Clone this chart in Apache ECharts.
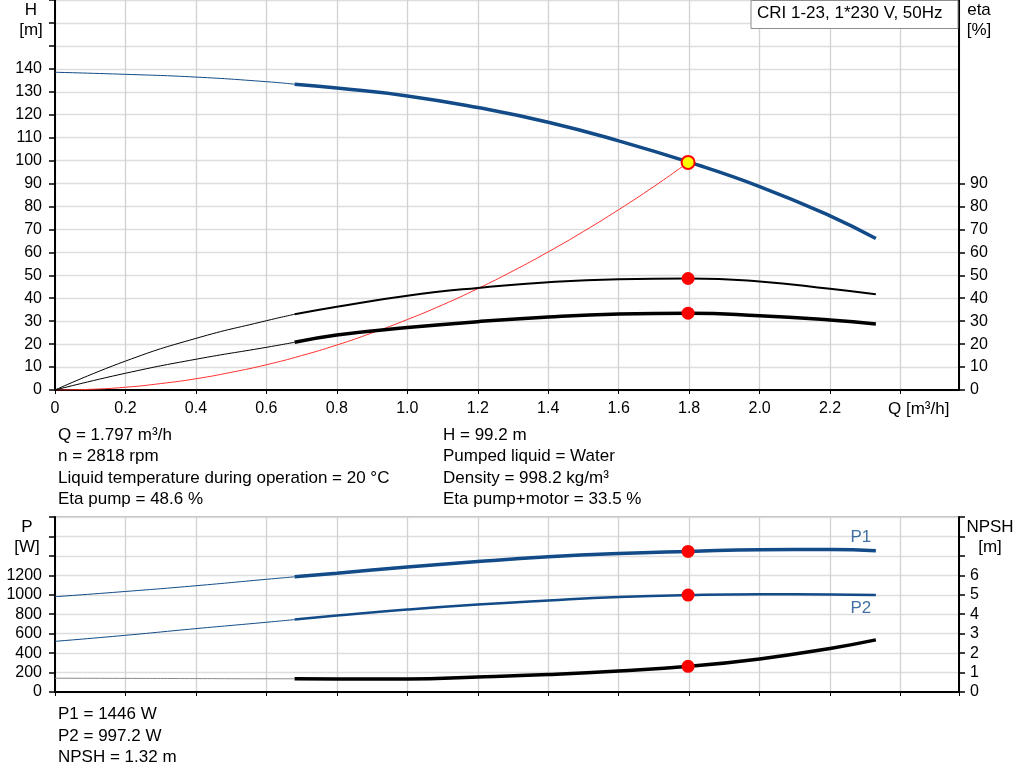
<!DOCTYPE html>
<html>
<head>
<meta charset="utf-8">
<script src="https://cdn.jsdelivr.net/npm/echarts@6/dist/echarts.min.js"></script>
<style>
html,body{margin:0;padding:0;background:#fff;}
#c{width:1024px;height:781px;}
</style>
</head>
<body>
<div id="c"></div>
<script>
// ---- data ----
const Q_THIN = [0, 0.2, 0.4, 0.6, 0.68];
const Q_THICK = [0.68, 0.8, 1.0, 1.2, 1.4, 1.6, 1.8, 2.0, 2.2, 2.33];
const H_THIN = [138.5, 137.6, 136.4, 134.4, 133.3];
const H_THICK = [133.3, 131.6, 128.2, 123.1, 116.7, 108.6, 99.3, 88.7, 75.9, 66.0];
const ETA_PUMP_THIN = [0, 12.6, 22.5, 30.2, 33.0];
const ETA_PUMP_THICK = [33.0, 36.3, 41.1, 44.5, 47.0, 48.3, 48.6, 47.3, 44.1, 41.7];
const ETA_TOTAL_THIN = [0, 7.3, 13.4, 18.6, 20.8];
const ETA_TOTAL_THICK = [20.8, 24.0, 27.2, 29.8, 31.8, 33.1, 33.5, 32.4, 30.5, 28.8];
const Q_SYS = [0, 0.1, 0.2, 0.3, 0.4, 0.5, 0.6, 0.7, 0.8, 0.9, 1.0, 1.1, 1.2, 1.3, 1.4, 1.5, 1.6, 1.7, 1.797];
const H_SYS = [0, 0.3, 1.2, 2.8, 4.9, 7.7, 11.0, 15.0, 19.6, 24.9, 30.7, 37.1, 44.2, 51.9, 60.2, 69.1, 78.6, 88.7, 99.2];
const P1_THIN = [980, 1034, 1093, 1159, 1185];
const P1_THICK = [1185, 1222, 1285, 1342, 1390, 1424, 1446, 1464, 1466, 1452];
const P2_THIN = [521, 583, 652, 717, 745];
const P2_THICK = [745, 786, 848, 900, 941, 976, 997, 1006, 1004, 997];
const NPSH_THIN = [0.71, 0.70, 0.69, 0.68, 0.68];
const NPSH_THICK = [0.68, 0.67, 0.67, 0.77, 0.90, 1.08, 1.32, 1.70, 2.24, 2.68];
const DUTY_Q = 1.797;
const DUTY_H = 99.2;
const DUTY_ETA_PUMP = 48.6;
const DUTY_ETA_TOTAL = 33.5;
const DUTY_P1 = 1446;
const DUTY_P2 = 997.2;
const DUTY_NPSH = 1.32;
const X_TICKS_TEXT = ['0', '0.2', '0.4', '0.6', '0.8', '1.0', '1.2', '1.4', '1.6', '1.8', '2.0', '2.2'];
const ETA_TICKS = [0, 10, 20, 30, 40, 50, 60, 70, 80, 90];
const INFO_TOP_LEFT = ['Q = 1.797 m³/h', 'n = 2818 rpm', 'Liquid temperature during operation = 20 °C', 'Eta pump = 48.6 %'];
const INFO_TOP_RIGHT = ['H = 99.2 m', 'Pumped liquid = Water', 'Density = 998.2 kg/m³', 'Eta pump+motor = 33.5 %'];
const INFO_BOTTOM = ['P1 = 1446 W', 'P2 = 997.2 W', 'NPSH = 1.32 m'];
const TITLE = 'CRI 1-23, 1*230 V, 50Hz';

const zip = (xs, ys) => xs.map((x, i) => [x, ys[i]]);
const BLUE = '#124b87';
const FONT = '"Liberation Sans", Arial, sans-serif';
const TXT = '17px ' + FONT;
const QMAX = 2.566;

const chart = echarts.init(document.getElementById('c'), null, {renderer: 'canvas'});

function line(name, xi, yi, data, color, width, extra) {
  return Object.assign({
    name, type: 'line', xAxisIndex: xi, yAxisIndex: yi, data,
    smooth: true, showSymbol: false, symbol: 'none', silent: true,
    lineStyle: {color, width}, z: 3
  }, extra || {});
}
function dot(xi, yi, q, v, fill, border) {
  return {
    type: 'scatter', xAxisIndex: xi, yAxisIndex: yi, data: [[q, v]],
    symbol: 'circle', symbolSize: 13, silent: true, z: 10,
    itemStyle: {color: fill, borderColor: border || fill, borderWidth: border ? 2 : 0, opacity: 1}
  };
}
function endTag(xi, yi, q, v, text, position) {
  return {
    type: 'scatter', xAxisIndex: xi, yAxisIndex: yi, data: [[q, v]],
    symbol: 'circle', symbolSize: 2, silent: true, z: 11,
    itemStyle: {color: 'rgba(0,0,0,0)'},
    label: {show: true, formatter: text, position, distance: 4, offset: [-15, 0],
            color: BLUE, fontSize: 17, fontFamily: FONT}
  };
}

const xLabelFmt = v => {
  const i = Math.round(v / 0.2);
  return (Math.abs(v - i * 0.2) < 1e-6 && i < X_TICKS_TEXT.length) ? X_TICKS_TEXT[i] : '';
};

const axisLine = {show: true, lineStyle: {color: '#000', width: 2}};
const tick = {show: true, length: 6, lineStyle: {color: '#000', width: 1.5}};
const labelStyle = {color: '#000', fontSize: 16, fontFamily: FONT};

function xAxis(gi, showLabels) {
  return {
    type: 'value', gridIndex: gi, min: 0, max: QMAX, interval: 0.2,
    axisLine, axisTick: {show: true, length: 4, lineStyle: {color: '#000'}},
    axisLabel: Object.assign({show: showLabels, margin: 11, formatter: xLabelFmt, showMaxLabel: false}, labelStyle),
    splitLine: {show: true, lineStyle: {color: '#d2d2d2', width: 1.3}}
  };
}

const lastQ = Q_THICK[Q_THICK.length - 1];

function texts(lines, x, y0, dy) {
  return lines.map((t, i) => ({
    type: 'text', left: x, top: y0 + i * dy, silent: true,
    style: {text: t, fill: '#000', font: TXT}
  }));
}
function axTitle(t, x, y) {
  return {type: 'text', silent: true, x, y, style: {text: t, fill: '#000', font: TXT, textAlign: 'center'}};
}

const option = {
  animation: false,
  backgroundColor: '#fff',
  grid: [
    {left: 55, right: 65, top: 0, height: 390, show: true, borderColor: '#777', borderWidth: 1},
    {left: 55, right: 65, top: 517, height: 175, show: true, borderColor: '#777', borderWidth: 1}
  ],
  xAxis: [xAxis(0, true), xAxis(1, false)],
  yAxis: [
    {type: 'value', gridIndex: 0, min: 0, max: 170, interval: 10, position: 'left',
     axisLine, axisTick: tick,
     axisLabel: Object.assign({margin: 13, formatter: v => v <= 140 ? String(v) : ''}, labelStyle),
     splitLine: {show: true, lineStyle: {color: '#dedede', width: 1.3}}},
    {type: 'value', gridIndex: 0, min: 0, max: 170, interval: 10, position: 'right',
     axisLine, axisTick: Object.assign({customValues: ETA_TICKS}, tick),
     axisLabel: Object.assign({margin: 11, customValues: ETA_TICKS}, labelStyle),
     splitLine: {show: false}},
    {type: 'value', gridIndex: 1, min: 0, max: 1800, interval: 200, position: 'left',
     axisLine, axisTick: tick,
     axisLabel: Object.assign({margin: 13, formatter: v => v <= 1200 ? String(v) : ''}, labelStyle),
     splitLine: {show: true, lineStyle: {color: '#dedede', width: 1.3}}},
    {type: 'value', gridIndex: 1, min: 0, max: 9, interval: 1, position: 'right',
     axisLine, axisTick: tick,
     axisLabel: Object.assign({margin: 11, formatter: v => v <= 6 ? String(v) : ''}, labelStyle),
     splitLine: {show: false}}
  ],
  series: [
    line('H thin', 0, 0, zip(Q_THIN, H_THIN), BLUE, 1),
    line('H', 0, 0, zip(Q_THICK, H_THICK), BLUE, 3.5),
    line('Eta pump thin', 0, 1, zip(Q_THIN, ETA_PUMP_THIN), '#000', 1),
    line('Eta pump', 0, 1, zip(Q_THICK, ETA_PUMP_THICK), '#000', 2),
    line('Eta total thin', 0, 1, zip(Q_THIN, ETA_TOTAL_THIN), '#000', 1),
    line('Eta total', 0, 1, zip(Q_THICK, ETA_TOTAL_THICK), '#000', 3.5),
    line('System', 0, 0, zip(Q_SYS, H_SYS), '#ff3030', 1, {z: 2}),
    line('P1 thin', 1, 2, zip(Q_THIN, P1_THIN), BLUE, 1),
    line('P1', 1, 2, zip(Q_THICK, P1_THICK), BLUE, 3.5),
    line('P2 thin', 1, 2, zip(Q_THIN, P2_THIN), BLUE, 1),
    line('P2', 1, 2, zip(Q_THICK, P2_THICK), BLUE, 2.5),
    line('NPSH thin', 1, 3, zip(Q_THIN, NPSH_THIN), '#8a8a8a', 1),
    line('NPSH', 1, 3, zip(Q_THICK, NPSH_THICK), '#000', 3.5),
    endTag(1, 2, lastQ, P1_THICK[P1_THICK.length - 1], 'P1', 'top'),
    endTag(1, 2, lastQ, P2_THICK[P2_THICK.length - 1], 'P2', 'bottom'),
    dot(0, 0, DUTY_Q, DUTY_H, '#ffff00', '#ff0000'),
    dot(0, 1, DUTY_Q, DUTY_ETA_PUMP, '#ff0000'),
    dot(0, 1, DUTY_Q, DUTY_ETA_TOTAL, '#ff0000'),
    dot(1, 2, DUTY_Q, DUTY_P1, '#ff0000'),
    dot(1, 2, DUTY_Q, DUTY_P2, '#ff0000'),
    dot(1, 3, DUTY_Q, DUTY_NPSH, '#ff0000')
  ],
  graphic: [
    {type: 'rect', silent: true, z: 20, shape: {x: 751, y: 0.5, width: 207, height: 28},
     style: {fill: '#fff', stroke: '#8c8c8c', lineWidth: 1}},
    {type: 'text', silent: true, z: 21, left: 757, top: 5, style: {text: TITLE, fill: '#000', font: TXT}},
    {type: 'text', silent: true, left: 888, top: 401, style: {text: 'Q [m³/h]', fill: '#000', font: TXT}},
    axTitle('H', 31, 2), axTitle('[m]', 31, 22),
    axTitle('eta', 979, 2), axTitle('[%]', 979, 22),
    axTitle('P', 27, 519), axTitle('[W]', 27, 539),
    axTitle('NPSH', 990, 519), axTitle('[m]', 990, 539)
  ].concat(texts(INFO_TOP_LEFT, 58, 427, 21.3))
   .concat(texts(INFO_TOP_RIGHT, 443, 427, 21.3))
   .concat(texts(INFO_BOTTOM, 58, 706, 21.5))
};
chart.setOption(option);
</script>
</body>
</html>
